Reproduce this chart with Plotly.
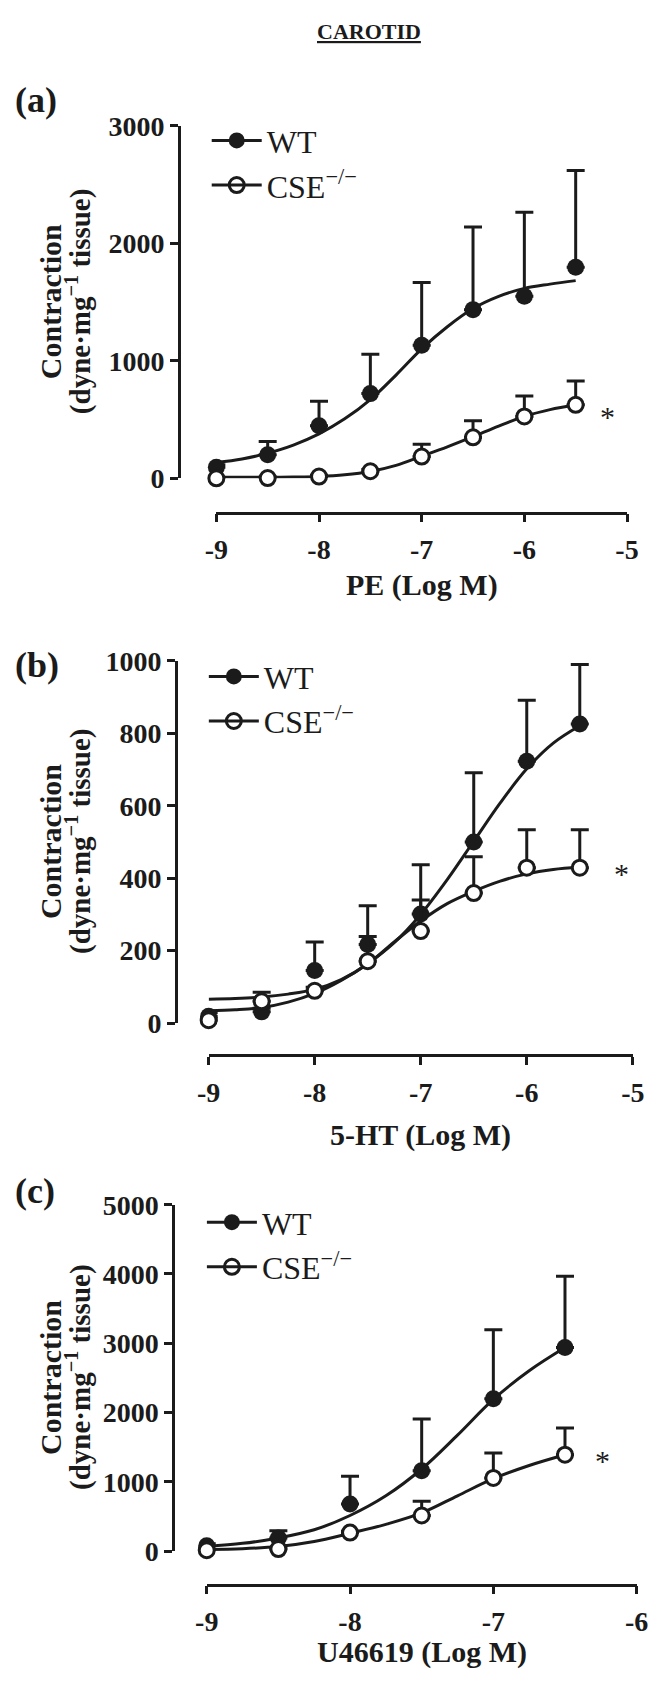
import plotly.graph_objects as go

W, H = 666, 1684

# ---------------- data ----------------
# Panel (a): PE
x_pe = [-9, -8.5, -8, -7.5, -7, -6.5, -6, -5.5]
wt_pe = [95, 200, 447, 721, 1132, 1436, 1549, 1796]
wt_pe_sem = [20, 113, 208, 336, 536, 703, 715, 825]
cse_pe = [0, 2, 15, 60, 185, 349, 527, 626]
cse_pe_sem = [10, 10, 10, 15, 104, 142, 173, 202]
fit_x_pe = [-9, -8.75, -8.5, -8.25, -8, -7.75, -7.5, -7.25, -7, -6.75, -6.5, -6.25, -6, -5.75, -5.5]
fit_wt_pe = [134, 164, 214, 283, 378, 506, 670, 879, 1102, 1290, 1445, 1549, 1617, 1653, 1683]
fit_cse_pe = [8, 8, 9, 11, 16, 30, 58, 110, 188, 268, 355, 445, 527, 585, 626]

# Panel (b): 5-HT
x_ht = [-9, -8.5, -8, -7.5, -7, -6.5, -6, -5.5]
wt_ht = [19, 31, 145, 217, 301, 500, 723, 826]
wt_ht_sem = [10, 10, 79, 107, 136, 191, 168, 164]
cse_ht = [8, 60, 89, 171, 254, 359, 429, 429]
cse_ht_sem = [5, 25, 10, 68, 86, 100, 105, 105]
fit_x_ht = [-9, -8.75, -8.5, -8.25, -8, -7.75, -7.5, -7.25, -7, -6.75, -6.5, -6.25, -6, -5.75, -5.5]
fit_wt_ht = [34, 37, 43, 58, 82, 118, 164, 222, 300, 396, 502, 608, 702, 773, 821]
fit_cse_ht = [66, 68, 72, 80, 93, 120, 163, 224, 282, 330, 364, 392, 412, 424, 430]

# Panel (c): U46619
x_u = [-9, -8.5, -8, -7.5, -7, -6.5]
wt_u = [77, 191, 680, 1160, 2201, 2938]
wt_u_sem = [30, 103, 402, 747, 995, 1031]
cse_u = [15, 30, 268, 515, 1057, 1392]
cse_u_sem = [10, 10, 20, 207, 361, 386]
fit_x_u = [-9, -8.75, -8.5, -8.25, -8, -7.75, -7.5, -7.25, -7, -6.75, -6.5]
fit_wt_u = [67, 113, 191, 309, 515, 799, 1186, 1675, 2191, 2603, 2938]
fit_cse_u = [26, 36, 67, 139, 258, 387, 552, 799, 1046, 1237, 1392]

# tick labels
xt_pe = [-9, -8, -7, -6, -5]
xt_pe_text = ["-9", "-8", "-7", "-6", "-5"]
xt_u = [-9, -8, -7, -6]
xt_u_text = ["-9", "-8", "-7", "-6"]
yt_pe = [0, 1000, 2000, 3000]
yt_ht = [0, 200, 400, 600, 800, 1000]
yt_u = [0, 1000, 2000, 3000, 4000, 5000]

series_names = ["WT", "CSE<sup>\u2212/\u2212</sup>"]
x_titles = ["PE (Log M)", "5-HT (Log M)", "U46619 (Log M)"]
panel_letters = ["(a)", "(b)", "(c)"]
title_text = "CAROTID"
y_title_1 = "Contraction"
y_title_2 = "(dyne\u00b7mg<sup>\u22121</sup> tissue)"

# ---------------- layout geometry (pixels) ----------------
INK = "#1b1b1b"
FONT = "Liberation Serif"

panels = [
    dict(x=x_pe, wt=wt_pe, wts=wt_pe_sem, cse=cse_pe, cses=cse_pe_sem,
         fx=fit_x_pe, fwt=fit_wt_pe, fcse=fit_cse_pe,
         xr=[-9, -5], xt=xt_pe, xtt=xt_pe_text, yr=[0, 3000], yt=yt_pe,
         px_x=(212, 638), px_yaxis=173, px_y=(472, 113), px_xaxis=507,
         leg=(202, 100), xtitle_y=581, ytitle_y=292, letter_y=87,
         star=(-5.19, 596)),
    dict(x=x_ht, wt=wt_ht, wts=wt_ht_sem, cse=cse_ht, cses=cse_ht_sem,
         fx=fit_x_ht, fwt=fit_wt_ht, fcse=fit_cse_ht,
         xr=[-9, -5], xt=xt_pe, xtt=xt_pe_text, yr=[0, 1000], yt=yt_ht,
         px_x=(204, 644), px_yaxis=170, px_y=(1027, 658), px_xaxis=1060,
         leg=(199, 646), xtitle_y=1141, ytitle_y=842, letter_y=662,
         star=(-5.11, 435)),
    dict(x=x_u, wt=wt_u, wts=wt_u_sem, cse=cse_u, cses=cse_u_sem,
         fx=fit_x_u, fwt=fit_wt_u, fcse=fit_cse_u,
         xr=[-9, -6], xt=xt_u, xtt=xt_u_text, yr=[0, 5000], yt=yt_u,
         px_x=(202, 648), px_yaxis=167, px_y=(1565, 1212), px_xaxis=1599,
         leg=(197, 1202), xtitle_y=1668, ytitle_y=1388, letter_y=1198,
         star=(-6.24, 1418)),
]


def px(xp):
    return xp / W


def py(yp):
    return 1 - yp / H


fig = go.Figure()
annotations = []
layout = dict(
    width=W, height=H, margin=dict(l=0, r=0, t=0, b=0),
    paper_bgcolor="white", plot_bgcolor="white",
    font=dict(family=FONT, color=INK),
    showlegend=True,
)

for i, p in enumerate(panels, start=1):
    sfx = "" if i == 1 else str(i)
    xa, ya = "x" + sfx, "y" + sfx
    leg = "legend" + sfx

    # fitted curves
    for fy in (p["fwt"], p["fcse"]):
        fig.add_trace(go.Scatter(
            x=p["fx"], y=fy, mode="lines", line=dict(color=INK, width=3, shape="spline"),
            showlegend=False, hoverinfo="skip", xaxis=xa, yaxis=ya))

    # WT points with upward SEM bars
    fig.add_trace(go.Scatter(
        x=p["x"], y=p["wt"], mode="markers",
        marker=dict(symbol="circle", size=17, color=INK),
        error_y=dict(type="data", symmetric=False, array=p["wts"],
                     arrayminus=[0] * len(p["wts"]), color=INK, thickness=3, width=9),
        cliponaxis=False, showlegend=False, xaxis=xa, yaxis=ya))
    # CSE-/- points
    fig.add_trace(go.Scatter(
        x=p["x"], y=p["cse"], mode="markers",
        marker=dict(symbol="circle", size=15, color="white", line=dict(color=INK, width=3)),
        error_y=dict(type="data", symmetric=False, array=p["cses"],
                     arrayminus=[0] * len(p["cses"]), color=INK, thickness=3, width=9),
        cliponaxis=False, showlegend=False, xaxis=xa, yaxis=ya))

    # legend entries
    fig.add_trace(go.Scatter(
        x=[None], y=[None], mode="lines+markers", name=series_names[0],
        line=dict(color=INK, width=3), marker=dict(symbol="circle", size=16, color=INK),
        legend=leg, xaxis=xa, yaxis=ya))
    fig.add_trace(go.Scatter(
        x=[None], y=[None], mode="lines+markers", name=series_names[1],
        line=dict(color=INK, width=3),
        marker=dict(symbol="circle-open", size=15, color=INK, line=dict(width=3)),
        legend=leg, xaxis=xa, yaxis=ya))

    axis_common = dict(
        showline=True, linecolor=INK, linewidth=2.5, ticks="outside", ticklen=8,
        tickwidth=2.5, tickcolor=INK, showgrid=False, zeroline=False,
        tickfont=dict(family=FONT, size=28, color=INK, weight="bold"),
    )
    layout["xaxis" + sfx] = dict(
        axis_common, domain=[px(p["px_x"][0]), px(p["px_x"][1])], range=p["xr"],
        tickvals=p["xt"], ticktext=p["xtt"], anchor="free", position=py(p["px_xaxis"]),
        ticklabelstandoff=3)
    layout["yaxis" + sfx] = dict(
        axis_common, domain=[py(p["px_y"][0]), py(p["px_y"][1])], range=p["yr"],
        tickvals=p["yt"], ticktext=[str(v) for v in p["yt"]], anchor="free",
        position=px(p["px_yaxis"]))
    layout[leg] = dict(
        x=px(p["leg"][0]), y=py(p["leg"][1]), xanchor="left", yanchor="top",
        bgcolor="rgba(0,0,0,0)", borderwidth=0, itemwidth=50,
        font=dict(family=FONT, size=32, color=INK))

    cx = (p["px_x"][0] + p["px_x"][1]) / 2
    annotations += [
        dict(text=x_titles[i - 1], x=px(cx), y=py(p["xtitle_y"]), xref="paper", yref="paper",
             showarrow=False, xanchor="center", yanchor="middle",
             font=dict(family=FONT, size=30, color=INK, weight="bold")),
        dict(text=y_title_1, x=px(40), y=py(p["ytitle_y"]), xref="paper", yref="paper",
             showarrow=False, textangle=-90, xanchor="center", yanchor="middle",
             font=dict(family=FONT, size=30, color=INK, weight="bold")),
        dict(text=y_title_2, x=px(69), y=py(p["ytitle_y"]), xref="paper", yref="paper",
             showarrow=False, textangle=-90, xanchor="center", yanchor="middle",
             font=dict(family=FONT, size=29, color=INK, weight="bold")),
        dict(text=panel_letters[i - 1], x=px(1), y=py(p["letter_y"]), xref="paper", yref="paper",
             showarrow=False, xanchor="left", yanchor="middle",
             font=dict(family=FONT, size=36, color=INK, weight="bold")),
        dict(text="*", x=p["star"][0], y=p["star"][1], xref=xa, yref=ya, yshift=-8,
             showarrow=False, xanchor="center", yanchor="middle",
             font=dict(family=FONT, size=30, color=INK)),
    ]

annotations.append(dict(
    text="<u>" + title_text + "</u>", x=px(370), y=py(17), xref="paper", yref="paper",
    showarrow=False, xanchor="center", yanchor="middle",
    font=dict(family=FONT, size=22, color=INK, weight="bold")))

layout["annotations"] = annotations
fig.update_layout(**layout)
fig.write_html(
    "out.html",
    config={"displayModeBar": False},
    post_script="document.body.style.margin='0';document.body.style.overflow='hidden';",
)
